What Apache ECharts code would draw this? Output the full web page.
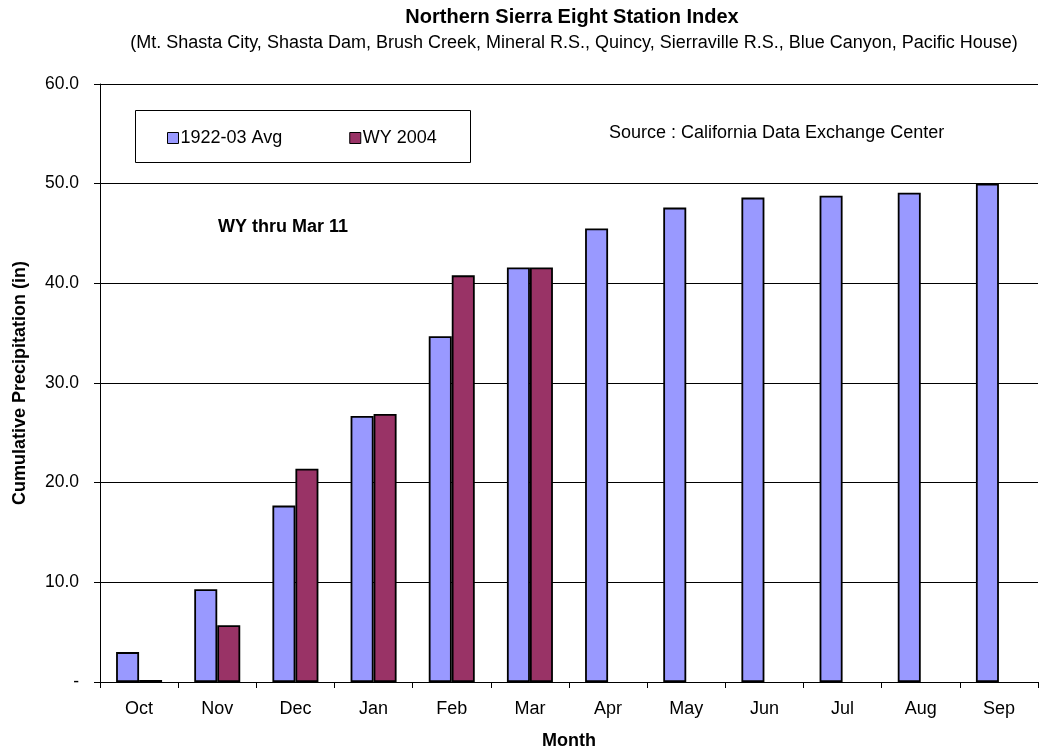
<!DOCTYPE html>
<html><head><meta charset="utf-8">
<script src="https://cdn.jsdelivr.net/npm/echarts@6/dist/echarts.min.js"></script>
<style>html,body{margin:0;padding:0;background:#fff}#c{width:1039px;height:755px}</style>
</head><body><div id="c"></div>
<script>
const months = ['Oct','Nov','Dec','Jan','Feb','Mar','Apr','May','Jun','Jul','Aug','Sep'];
const avgValues = [3.0, 9.3, 17.7, 26.7, 34.7, 41.6, 45.5, 47.6, 48.6, 48.8, 49.1, 50.0];
const wy2004Values = [0.2, 5.7, 21.4, 26.9, 40.8, 41.6, null, null, null, null, null, null];
const seriesNames = ['1922-03 Avg', 'WY 2004'];
const yTicks = [0, 10, 20, 30, 40, 50, 60];

const font = 'Liberation Sans, Arial, sans-serif';
const chart = echarts.init(document.getElementById('c'));
chart.setOption({
  animation: false,
  textStyle: { fontFamily: font },
  title: [
    { text: 'Northern Sierra Eight Station Index', left: 567, top: 2, textAlign: 'center',
      textStyle: { fontFamily: font, fontSize: 20, fontWeight: 'bold', color: '#000' } },
    { text: '(Mt. Shasta City, Shasta Dam, Brush Creek, Mineral R.S., Quincy, Sierraville R.S., Blue Canyon, Pacific House)',
      left: 569, top: 29, textAlign: 'center',
      textStyle: { fontFamily: font, fontSize: 18, fontWeight: 'normal', color: '#000' } }
  ],
  grid: { left: 100, top: 84, right: 1, bottom: 73 },
  legend: {
    data: seriesNames, left: 162, top: 124, itemWidth: 11, itemHeight: 11, itemGap: 67,
    icon: 'rect', textStyle: { fontFamily: font, fontSize: 18, color: '#000', padding: [0,0,0,-3] },
    itemStyle: { borderColor: '#000', borderWidth: 1 }
  },
  graphic: [
    { type: 'rect', shape: { x: 135.5, y: 110.5, width: 335, height: 52 },
      style: { fill: '#fff', stroke: '#000', lineWidth: 1 }, z: 0 },
    { type: 'text', left: 609, top: 124, style: { text: 'Source : California Data Exchange Center',
      font: '18px ' + font, fill: '#000' } },
    { type: 'text', left: 218, top: 218, style: { text: 'WY thru Mar 11',
      font: 'bold 18px ' + font, fill: '#000' } }
  ],
  xAxis: {
    type: 'category', data: months, name: 'Month', nameLocation: 'middle', nameGap: 50,
    nameTextStyle: { fontFamily: font, fontSize: 18, fontWeight: 'bold', color: '#000' },
    axisLine: { lineStyle: { color: '#000', width: 1 } },
    axisTick: { show: true, alignWithLabel: false, length: 6, lineStyle: { color: '#000' } },
    axisLabel: { fontFamily: font, fontSize: 18, color: '#000', margin: 18 }
  },
  yAxis: {
    type: 'value', min: 0, max: 60, interval: 10,
    name: 'Cumulative Precipitation (in)', nameLocation: 'middle', nameGap: 71,
    nameTextStyle: { fontFamily: font, fontSize: 18, fontWeight: 'bold', color: '#000' },
    axisLine: { show: true, lineStyle: { color: '#000', width: 1 } },
    axisTick: { show: true, length: 6, lineStyle: { color: '#000' } },
    axisLabel: { fontFamily: font, fontSize: 17.5, color: '#000', margin: 21,
      formatter: v => yTicks.includes(v) ? (v === 0 ? '-' : v.toFixed(1)) : '' },
    splitLine: { show: true, lineStyle: { color: '#000', width: 1 } }
  },
  series: [
    { name: seriesNames[0], type: 'bar', data: avgValues, barWidth: 23, barGap: '0%',
      itemStyle: { color: '#9999FF', borderColor: '#000', borderWidth: 1.8 } },
    { name: seriesNames[1], type: 'bar', data: wy2004Values, barWidth: 23, barGap: '0%',
      itemStyle: { color: '#993366', borderColor: '#000', borderWidth: 1.8 } }
  ]
});
</script></body></html>
